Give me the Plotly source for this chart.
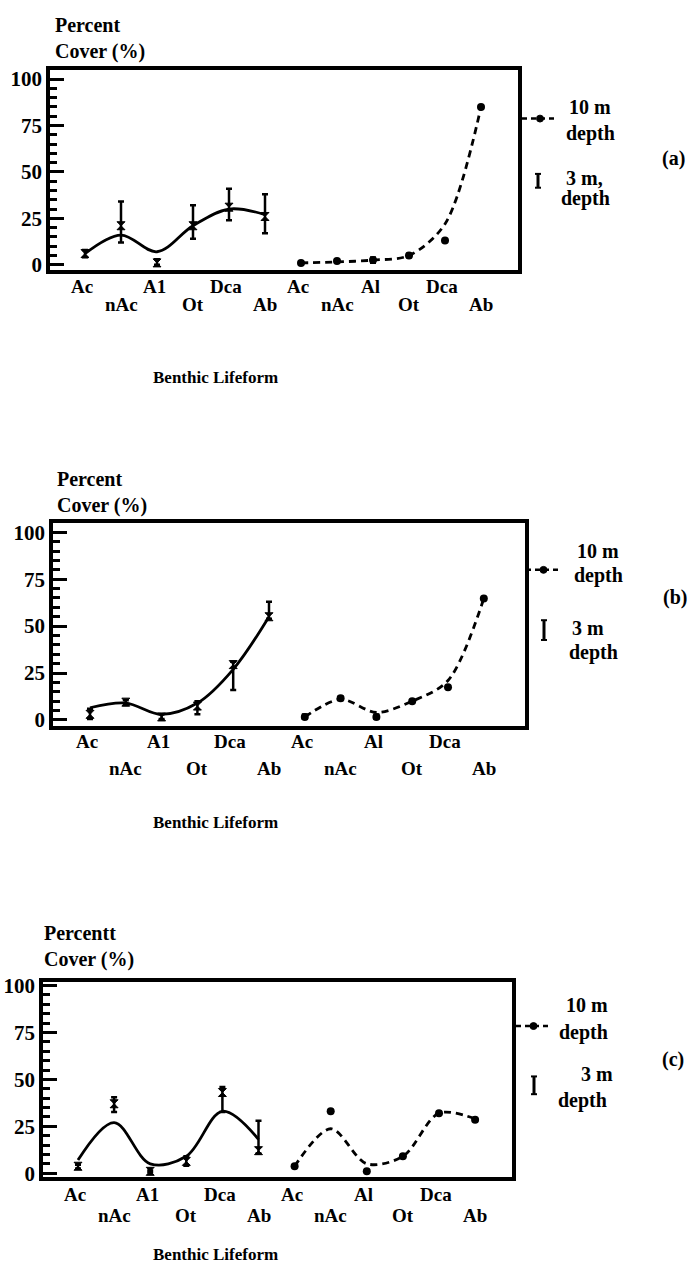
import plotly.graph_objects as go

W, H = 690, 1275

# ---------------- data ----------------
lifeforms_3m = ["Ac", "nAc", "A1", "Ot", "Dca", "Ab"]
lifeforms_10m = ["Ac", "nAc", "Al", "Ot", "Dca", "Ab"]
y_ticks = [0, 25, 50, 75, 100]

# Panel (a)
a_3m_mean = [6, 21, 1, 21, 31, 26]
a_3m_high = [8, 34, 3, 32, 41, 38]
a_3m_low = [4, 12, 0, 14, 24, 17]
a_3m_trend = [6, 16, 7, 21, 30, 27]
a_10m_mean = [1, 2, 2.5, 5, 13, 85]
a_10m_high = [2, 3, 4, 6, 13, 85]
a_10m_low = [0.5, 1, 1, 4, 13, 85]
a_10m_trend = [1, 1.5, 2.5, 5, 22, 85]

# Panel (b)
b_3m_mean = [3, 9.5, 1.6, 7.4, 29.5, 55]
b_3m_high = [6, 10.5, 3, 10, 31, 63]
b_3m_low = [0.5, 8, 0.5, 3, 16, 54]
b_3m_trend = [6.5, 9, 3, 9, 27, 55]
b_10m_mean = [1.6, 11.6, 1.6, 10, 17.4, 64.7]
b_10m_high = [3, 12.5, 3, 10, 17.4, 64.7]
b_10m_low = [0.5, 10.5, 0.5, 10, 17.4, 64.7]
b_10m_trend = [1.6, 11, 4, 10, 21, 64.7]

# Panel (c)
c_3m_mean = [3.7, 37, 1, 6.3, 43, 12]
c_3m_high = [4.5, 40.5, 1.5, 9, 46, 28]
c_3m_low = [2.5, 32.6, 0.5, 4, 32.6, 10.5]
c_3m_trend = [7, 27, 5, 9, 33, 18]
c_10m_mean = [3.7, 33, 1, 9, 32, 28.5]
c_10m_high = [3.7, 33, 1, 9, 32, 28.5]
c_10m_low = [3.7, 33, 1, 9, 32, 28.5]
c_10m_trend = [3.7, 23.7, 5, 9, 32, 29]

series = {
    "a": (a_3m_mean, a_3m_high, a_3m_low, a_3m_trend, a_10m_mean, a_10m_high, a_10m_low, a_10m_trend),
    "b": (b_3m_mean, b_3m_high, b_3m_low, b_3m_trend, b_10m_mean, b_10m_high, b_10m_low, b_10m_trend),
    "c": (c_3m_mean, c_3m_high, c_3m_low, c_3m_trend, c_10m_mean, c_10m_high, c_10m_low, c_10m_trend),
}

# ---------------- layout geometry (pixels) ----------------
panels = [
    dict(key="a", tag="(a)", box=(50, 63, 518, 265), y0=260, y100=72, x0=85, dx=36,
         rows=(282, 300), title_x=53, title_y=31, title1="Percent", bl_y=374,
         leg=dict(line=(522, 558, 112), t10=(590, 100), d10=(590, 127), err=(538, 168, 182),
                  t3=(584, 172, "3 m,"), d3=(585, 193), tag=(673, 152))),
    dict(key="b", tag="(b)", box=(53, 522, 525, 727), y0=721, y100=531, x0=90, dx=35.8,
         rows=(743, 770), title_x=55, title_y=491, title1="Percent", bl_y=825,
         leg=dict(line=(526, 561, 569), t10=(598, 550), d10=(598, 575), err=(544, 620, 640),
                  t3=(588, 628, "3 m"), d3=(593, 653), tag=(675, 597))),
    dict(key="c", tag="(c)", box=(43, 986, 512, 1184), y0=1180, y100=990, x0=78, dx=36.1,
         rows=(1202, 1223), title_x=42, title_y=950, title1="Percentt", bl_y=1262,
         leg=dict(line=(516, 551, 1031), t10=(587, 1010), d10=(583, 1038), err=(534, 1082, 1100),
                  t3=(597, 1080, "3 m"), d3=(582, 1106), tag=(673, 1065))),
]

FONT = "Liberation Serif"


def fx(p):
    return p / W


def fy(p):
    return 1 - p / H


fig = go.Figure()
annotations = []
shapes = []
layout_axes = {}


def errs(mean, hi, lo):
    up, dn = [], []
    for m, h, l in zip(mean, hi, lo):
        if h == m and l == m:
            up.append(None)
            dn.append(None)
        else:
            up.append(h - m)
            dn.append(m - l)
    return up, dn


for i, P in enumerate(panels):
    n = "" if i == 0 else str(i + 1)
    xa, ya = "x" + n, "y" + n
    mean3, hi3, lo3, tr3, mean10, hi10, lo10, tr10 = series[P["key"]]
    xs3 = list(range(len(lifeforms_3m)))
    xs10 = [len(lifeforms_3m) + k for k in range(len(lifeforms_10m))]

    # 3 m depth: solid smoothed line + points with error bars
    fig.add_trace(go.Scatter(x=xs3, y=tr3, mode="lines", xaxis=xa, yaxis=ya,
                             line=dict(color="black", width=2.8, shape="spline", smoothing=1.0),
                             showlegend=False, hoverinfo="skip"))
    up, dn = errs(mean3, hi3, lo3)
    fig.add_trace(go.Scatter(x=xs3, y=mean3, mode="markers", xaxis=xa, yaxis=ya,
                             marker=dict(symbol="hourglass", size=8, color="black",
                                         line=dict(color="black", width=1)),
                             error_y=dict(type="data", symmetric=False, array=up, arrayminus=dn,
                                          color="black", thickness=2.5, width=3),
                             showlegend=False))
    # 10 m depth: dashed smoothed line + dots
    fig.add_trace(go.Scatter(x=xs10, y=tr10, mode="lines", xaxis=xa, yaxis=ya,
                             line=dict(color="black", width=2.8, shape="spline", smoothing=0.9,
                                       dash="7px,5px"),
                             showlegend=False, hoverinfo="skip"))
    up, dn = errs(mean10, hi10, lo10)
    fig.add_trace(go.Scatter(x=xs10, y=mean10, mode="markers", xaxis=xa, yaxis=ya,
                             marker=dict(symbol="circle", size=8, color="black"),
                             error_y=dict(type="data", symmetric=False, array=up, arrayminus=dn,
                                          color="black", thickness=2.2, width=3),
                             showlegend=False))

    L, T, R, B = P["box"]
    ppu = (P["y0"] - P["y100"]) / 100.0
    yr = [-(B - P["y0"]) / ppu, 100 + (P["y100"] - T) / ppu]
    xr = [(L - P["x0"]) / P["dx"], (R - P["x0"]) / P["dx"]]

    layout_axes["xaxis" + n] = dict(
        domain=[fx(L), fx(R)], range=xr, anchor=ya, showline=True, linewidth=3.5,
        linecolor="black", mirror=True, showgrid=False, zeroline=False,
        showticklabels=False, ticks="")
    layout_axes["yaxis" + n] = dict(
        domain=[fy(B), fy(T)], range=yr, anchor=xa, showline=True, linewidth=3.5,
        linecolor="black", mirror=True, showgrid=False, zeroline=False,
        tickvals=y_ticks, ticks="inside", ticklen=14, tickwidth=2.5, tickcolor="black",
        minor=dict(ticks="inside", dtick=5, ticklen=7, tickwidth=2.5, tickcolor="black"),
        tickfont=dict(family=FONT, size=21, color="black", weight="bold"))

    # category labels (two staggered rows)
    labels = lifeforms_3m + lifeforms_10m
    for k, lab in enumerate(labels):
        row = P["rows"][k % 2]
        annotations.append(dict(x=k - 0.08 if k % 2 == 0 else k, y=fy(row), xref=xa, yref="paper",
                                text="<b>%s</b>" % lab, showarrow=False,
                                xanchor="center", yanchor="middle",
                                font=dict(family=FONT, size=19, color="black")))

    # y axis title (two lines)
    annotations.append(dict(x=fx(P["title_x"]), y=fy(P["title_y"]), xref="paper", yref="paper",
                            text="<b>%s<br>Cover (%%)</b>" % P["title1"], showarrow=False,
                            xanchor="left", yanchor="middle", align="left",
                            font=dict(family=FONT, size=20, color="black")))
    # x axis title
    annotations.append(dict(x=fx(215), y=fy(P["bl_y"]), xref="paper", yref="paper",
                            text="<b>Benthic Lifeform</b>", showarrow=False,
                            xanchor="center", yanchor="middle",
                            font=dict(family=FONT, size=17, color="black")))

    # legend
    lg = P["leg"]
    x1, x2, yl = lg["line"]
    shapes.append(dict(type="line", xref="paper", yref="paper", x0=fx(x1), x1=fx(x2),
                       y0=fy(yl), y1=fy(yl), line=dict(color="black", width=2.5, dash="5px,4px")))
    cx = (x1 + x2) / 2
    shapes.append(dict(type="circle", xref="paper", yref="paper", x0=fx(cx - 3.5), x1=fx(cx + 3.5),
                       y0=fy(yl - 3.5), y1=fy(yl + 3.5), fillcolor="black",
                       line=dict(color="black", width=1)))
    ex, ey1, ey2 = lg["err"]
    shapes.append(dict(type="line", xref="paper", yref="paper", x0=fx(ex), x1=fx(ex),
                       y0=fy(ey1), y1=fy(ey2), line=dict(color="black", width=3)))
    for yy in (ey1, ey2):
        shapes.append(dict(type="line", xref="paper", yref="paper", x0=fx(ex - 3), x1=fx(ex + 3),
                           y0=fy(yy), y1=fy(yy), line=dict(color="black", width=2)))
    for (tx, ty), txt in [(lg["t10"], "10 m"), (lg["d10"], "depth"), (lg["d3"], "depth")]:
        annotations.append(dict(x=fx(tx), y=fy(ty), xref="paper", yref="paper",
                                text="<b>%s</b>" % txt, showarrow=False,
                                xanchor="center", yanchor="middle",
                                font=dict(family=FONT, size=20, color="black")))
    tx, ty, txt = lg["t3"]
    annotations.append(dict(x=fx(tx), y=fy(ty), xref="paper", yref="paper",
                            text="<b>%s</b>" % txt, showarrow=False,
                            xanchor="center", yanchor="middle",
                            font=dict(family=FONT, size=20, color="black")))
    tx, ty = lg["tag"]
    annotations.append(dict(x=fx(tx), y=fy(ty), xref="paper", yref="paper",
                            text="<b>%s</b>" % P["tag"], showarrow=False,
                            xanchor="center", yanchor="middle",
                            font=dict(family=FONT, size=20, color="black")))

fig.update_layout(
    width=W, height=H, margin=dict(l=0, r=0, t=0, b=0),
    paper_bgcolor="white", plot_bgcolor="white",
    font=dict(family=FONT, color="black"),
    showlegend=False, annotations=annotations, shapes=shapes,
    **layout_axes)

fig.write_html("out.html")
